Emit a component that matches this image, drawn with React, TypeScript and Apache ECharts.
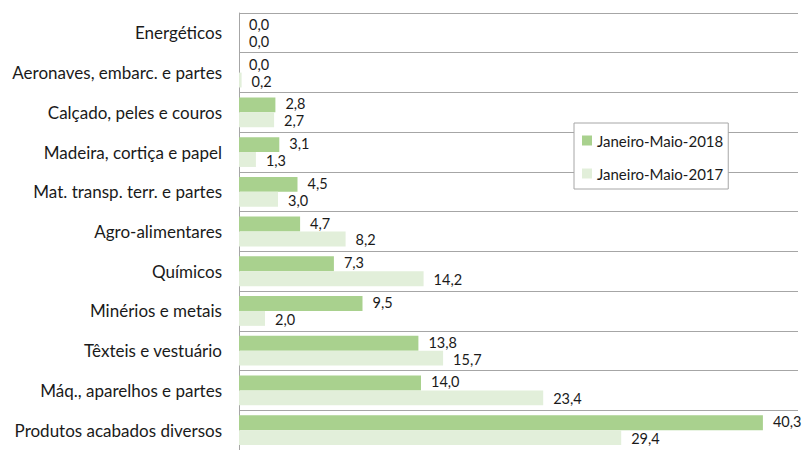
import React, { useEffect, useRef } from "react";
import * as echarts from "echarts";

const categories = [
  "Energéticos",
  "Aeronaves, embarc. e partes",
  "Calçado, peles e couros",
  "Madeira, cortiça e papel",
  "Mat. transp. terr. e partes",
  "Agro-alimentares",
  "Químicos",
  "Minérios e metais",
  "Têxteis e vestuário",
  "Máq., aparelhos e partes",
  "Produtos acabados diversos",
];
const values2018 = [0.0, 0.0, 2.8, 3.1, 4.5, 4.7, 7.3, 9.5, 13.8, 14.0, 40.3];
const values2017 = [0.0, 0.2, 2.7, 1.3, 3.0, 8.2, 14.2, 2.0, 15.7, 23.4, 29.4];
const seriesNames = ["Janeiro-Maio-2018", "Janeiro-Maio-2017"];

const FONT = "Lato";
const TEXT = "#1a1a1a";

export default function App() {
  const ref = useRef<HTMLDivElement>(null);
  useEffect(() => {
    if (!ref.current) return;
    const chart = echarts.init(ref.current, undefined, { renderer: "svg" });
    const fmt = (p: any) => Number(p.value).toFixed(1).replace(".", ",");
    const makeLabel = (dy: number) => ({
      show: true,
      position: "right",
      distance: 10,
      offset: [0, dy],
      formatter: fmt,
      color: TEXT,
      fontFamily: FONT,
      fontSize: 14.5,
      lineHeight: 13,
    });
    chart.setOption({
      animation: false,
      backgroundColor: "#ffffff",
      grid: { left: 239, top: 13, width: 559, height: 440, containLabel: false },
      legend: {
        orient: "vertical",
        left: 574,
        top: 123,
        backgroundColor: "#ffffff",
        borderColor: "#a6a6a6",
        borderWidth: 1,
        borderRadius: 0,
        padding: [10, 5, 8, 8],
        itemWidth: 10,
        itemHeight: 10,
        itemGap: 18,
        icon: "rect",
        textStyle: { color: TEXT, fontFamily: FONT, fontSize: 15 },
        data: seriesNames,
      },
      xAxis: {
        type: "value",
        min: 0,
        max: 43,
        show: false,
        splitLine: { show: false },
      },
      yAxis: {
        type: "category",
        inverse: true,
        data: categories,
        axisLine: { show: true, lineStyle: { color: "#a6a6a6", width: 1 } },
        axisTick: { show: false },
        splitLine: { show: true, lineStyle: { color: "#a6a6a6", width: 1 } },
        axisLabel: { color: TEXT, fontFamily: FONT, fontSize: 17, margin: 17 },
      },
      series: [
        {
          name: seriesNames[0],
          type: "bar",
          data: values2018,
          itemStyle: { color: "#a9d18e" },
          barGap: "0%",
          barCategoryGap: "25%",
          label: makeLabel(-1),
        },
        {
          name: seriesNames[1],
          type: "bar",
          data: values2017,
          itemStyle: { color: "#e2efda" },
          barGap: "0%",
          barCategoryGap: "25%",
          label: makeLabel(1),
        },
      ],
    });
    return () => chart.dispose();
  }, []);
  return (
    <div
      ref={ref}
      style={{ position: "fixed", left: 0, top: 0, width: 806, height: 450 }}
    />
  );
}
